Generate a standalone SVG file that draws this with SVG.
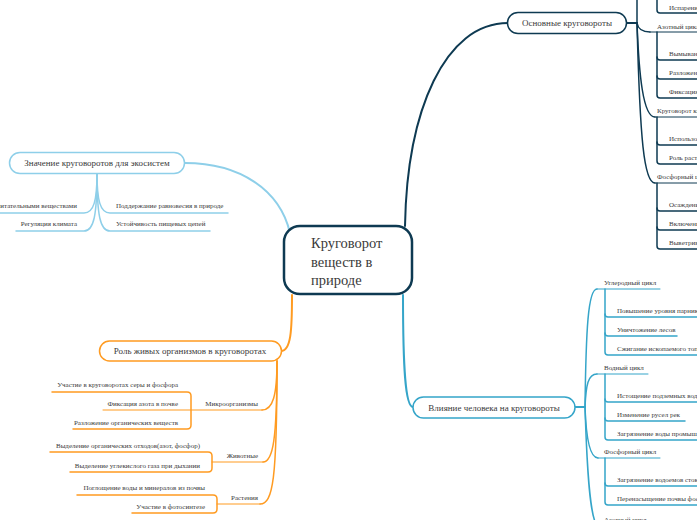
<svg xmlns="http://www.w3.org/2000/svg" width="697" height="520" viewBox="0 0 697 520">
<style>
.t{font-family:"Liberation Serif","Times New Roman",serif;fill:#3a3a3a}
.c{font-size:14.5px}
.m{font-size:9px}
.s{font-size:7px}
.e{text-anchor:end}
.mid{text-anchor:middle}
path{fill:none;stroke-linecap:round}
.nv{stroke:#0e3a52}
.lb{stroke:#8ecfe9}
.tl{stroke:#35a5c9}
.or{stroke:#ff9b21}
.w2{stroke-width:2}
.w15{stroke-width:1.5}
.w1{stroke-width:1}
.node{fill:#fff;stroke-width:1.5}
</style>
<rect width="697" height="520" fill="#fff"/>
<g id="connectors">
  <!-- navy -->
  <path class="nv w2" d="M405,226 C407,110 445,23 508,23"/>
  <path class="nv w2" d="M627,23 H637"/>
  <path class="nv w15" d="M637,23 V-5"/>
  <path class="nv w15" d="M637,23 C638,29 642,32 650,32"/>
  <path class="nv w1" d="M650,32 H700"/>
  <path class="nv w15" d="M637,23 C639,75 643,117 655,117"/>
  <path class="nv w1" d="M655,117 H700"/>
  <path class="nv w15" d="M637,23 C640,140 644,183 655,183"/>
  <path class="nv w1" d="M655,183 H700"/>
  <path class="nv w15" d="M657,-5 V10 Q657,13 660,13 H700"/>
  <path class="nv w15" d="M657,32 V95 Q657,98 660,98 H700"/>
  <path class="nv w15" d="M657,57 Q657,60 660,60 H700"/>
  <path class="nv w15" d="M657,76 Q657,79 660,79 H700"/>
  <path class="nv w15" d="M657,117 V161 Q657,164 660,164 H700"/>
  <path class="nv w15" d="M657,142 Q657,145 660,145 H700"/>
  <path class="nv w15" d="M657,183 V246 Q657,249 660,249 H700"/>
  <path class="nv w15" d="M657,208 Q657,211 660,211 H700"/>
  <path class="nv w15" d="M657,227 Q657,230 660,230 H700"/>
  <!-- light blue -->
  <path class="lb w2" d="M290,233 C280,190 240,163 185,163"/>
  <path class="lb w15" d="M97,173 C97,200 94,213 84,213 H-5"/>
  <path class="lb w15" d="M97,173 C97,215 94,231 84,231 H16"/>
  <path class="lb w15" d="M97,173 C97,200 100,213 110,213 H228"/>
  <path class="lb w15" d="M97,173 C97,215 100,231 110,231 H210"/>
  <!-- teal -->
  <path class="tl w2" d="M403,295 C403,365 405,407 413,407"/>
  <path class="tl w2" d="M575,407 H585"/>
  <path class="tl w15" d="M585,407 C586,330 588,289 597,289"/>
  <path class="tl w1" d="M597,289 H660"/>
  <path class="tl w15" d="M585,407 C586,385 588,374 597,374"/>
  <path class="tl w1" d="M597,374 H648"/>
  <path class="tl w15" d="M585,407 C586,435 589,458 598,458"/>
  <path class="tl w1" d="M598,458 H660"/>
  <path class="tl w15" d="M585,407 C587,470 590,522 598,526"/>
  <path class="tl w15" d="M605,289 V352 Q605,355 608,355 H700"/>
  <path class="tl w15" d="M605,314 Q605,317 608,317 H700"/>
  <path class="tl w15" d="M605,333 Q605,336 608,336 H677"/>
  <path class="tl w15" d="M605,374 V437 Q605,440 608,440 H700"/>
  <path class="tl w15" d="M605,399 Q605,402 608,402 H700"/>
  <path class="tl w15" d="M605,418 Q605,421 608,421 H685"/>
  <path class="tl w15" d="M605,458 V502 Q605,505 608,505 H700"/>
  <path class="tl w15" d="M605,483 Q605,486 608,486 H700"/>
  <!-- orange -->
  <path class="or w2" d="M292,295 C292,330 291,351 281,351"/>
  <path class="or w15" d="M277,361 C277,395 273,410 262,410"/>
  <path class="or w15" d="M277,361 C277,440 273,462 263,462"/>
  <path class="or w15" d="M277,361 C277,480 273,504 260,504"/>
  <path class="or w1" d="M103,410 H262"/>
  <path class="or w1" d="M212,462 H263"/>
  <path class="or w1" d="M217,504 H260"/>
  <path class="or w15" d="M52,392 H187 Q191,392 191,396 V425 Q191,429 187,429 H73"/>
  <path class="or w15" d="M50,452 H208 Q212,452 212,456 V468 Q212,472 208,472 H70"/>
  <path class="or w15" d="M77,495 H213 Q217,495 217,499 V509 Q217,513 213,513 H132"/>
</g>
<g id="center">
  <rect x="284" y="226" width="128" height="68" rx="16" fill="#fff" stroke="#0e3a52" stroke-width="2.5"/>
  <text class="t c" x="311" y="248">Круговорот</text>
  <text class="t c" x="311" y="266.5">веществ в</text>
  <text class="t c" x="311" y="285">природе</text>
</g>
<g id="osnovnye">
  <rect class="node nv" x="507.5" y="12.5" width="119" height="21" rx="10.5"/>
  <text class="t m mid" x="567" y="26">Основные круговороты</text>
  <text class="t s" x="669" y="9.5">Испарение</text>
  <text class="t s" x="657" y="28.5">Азотный цикл</text>
  <text class="t s" x="669" y="56">Вымывание</text>
  <text class="t s" x="669" y="75">Разложение</text>
  <text class="t s" x="669" y="94">Фиксация</text>
  <text class="t s" x="657" y="113">Круговорот кислорода</text>
  <text class="t s" x="669" y="141">Использование</text>
  <text class="t s" x="669" y="160">Роль растений</text>
  <text class="t s" x="657" y="179">Фосфорный цикл</text>
  <text class="t s" x="669" y="207">Осаждение</text>
  <text class="t s" x="669" y="226">Включение</text>
  <text class="t s" x="669" y="245">Выветривание</text>
</g>
<g id="znachenie">
  <rect class="node lb" x="9.5" y="152.5" width="175" height="21" rx="10.5"/>
  <text class="t m mid" x="97" y="166">Значение круговоротов для экосистем</text>
  <text class="t s e" x="77" y="208">питательными веществами</text>
  <text class="t s e" x="77" y="226">Регуляция климата</text>
  <text class="t s" x="116" y="208">Поддержание равновесия в природе</text>
  <text class="t s" x="116" y="226">Устойчивость пищевых цепей</text>
</g>
<g id="rol">
  <rect class="node or" x="99.5" y="341" width="182" height="20" rx="10"/>
  <text class="t m mid" x="190" y="354">Роль живых организмов в круговоротах</text>
  <text class="t s e" x="258" y="406">Микроорганизмы</text>
  <text class="t s e" x="178" y="387">Участие в круговоротах серы и фосфора</text>
  <text class="t s e" x="178" y="406">Фиксация азота в почве</text>
  <text class="t s e" x="178" y="425">Разложение органических веществ</text>
  <text class="t s e" x="258" y="458">Животные</text>
  <text class="t s e" x="200" y="448">Выделение органических отходов(азот, фосфор)</text>
  <text class="t s e" x="200" y="468">Выделение углекислого газа при дыхании</text>
  <text class="t s e" x="258" y="500">Растения</text>
  <text class="t s e" x="205" y="490">Поглощение воды и минералов из почвы</text>
  <text class="t s e" x="205" y="509">Участие в фотосинтезе</text>
</g>
<g id="vliyanie">
  <rect class="node tl" x="413" y="397" width="162" height="21" rx="10.5"/>
  <text class="t m mid" x="494" y="411">Влияние человека на круговороты</text>
  <text class="t s" x="604" y="285">Углеродный цикл</text>
  <text class="t s" x="617" y="313">Повышение уровня парникового газа</text>
  <text class="t s" x="617" y="332">Уничтожение лесов</text>
  <text class="t s" x="617" y="351">Сжигание ископаемого топлива</text>
  <text class="t s" x="604" y="370">Водный цикл</text>
  <text class="t s" x="617" y="398">Истощение подземных вод</text>
  <text class="t s" x="617" y="417">Изменение русел рек</text>
  <text class="t s" x="617" y="436">Загрязнение воды промышленностью</text>
  <text class="t s" x="604" y="454">Фосфорный цикл</text>
  <text class="t s" x="617" y="482">Загрязнение водоемов стоками</text>
  <text class="t s" x="617" y="501">Перенасыщение почвы фосфором</text>
  <text class="t s" x="604" y="522">Азотный цикл</text>
</g>
</svg>
